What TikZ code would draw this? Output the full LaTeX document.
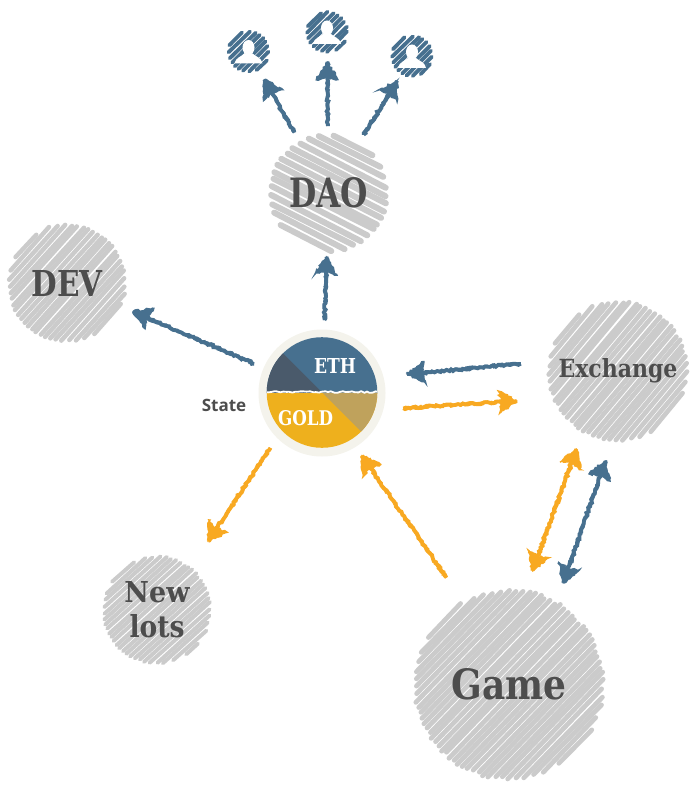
\documentclass[tikz,border=0pt]{standalone}
\usepackage{graphicx}
\usepackage{fontspec}
\usetikzlibrary{calc,decorations.pathmorphing}
\newfontfamily\dispfont{DejaVu Serif}
\newfontfamily\statefont{Open Sans}
\definecolor{inkblue}{HTML}{47708F}
\definecolor{inkorange}{HTML}{F8A922}
\definecolor{hatchgrey}{HTML}{CBCBCB}
\definecolor{labelgrey}{HTML}{4D4D4D}
\definecolor{ringcream}{HTML}{F4F3EC}
\definecolor{slicedark}{HTML}{4A5A6B}
\definecolor{slicegold}{HTML}{EEB01D}
\definecolor{slicetan}{HTML}{BFA25C}
\tikzset{
  roughline/.style={decorate,decoration={random steps,segment length=2.4pt,amplitude=1.1pt}},
  roughhead/.style={decorate,decoration={random steps,segment length=2.2pt,amplitude=1.3pt}},
  disc/.style={circle,inner sep=0pt,outer sep=0pt,text=labelgrey,align=center},
  tornedge/.style={decorate,decoration={random steps,segment length=3pt,amplitude=.8pt}},
}
\newcommand\lab[3]{\resizebox{#1pt}{#2pt}{\dispfont\bfseries #3}}
% x, y, radius, angle, gap, stroke width, colour, seed
\newcommand\hatchdisc[8]{%
  \begin{scope}[shift={(#1,#2)},rotate=#4]
    \pgfmathsetseed{#8}
    \pgfmathsetmacro\hR{#3-#6/2}
    \pgfmathsetmacro\hN{int(2*\hR/#5)}
    \foreach \hI in {0,...,\hN}{
      \pgfmathsetmacro\hD{-\hR+(\hI+0.5)*#5+0.1*#5*rand}
      \pgfmathsetmacro\hH{sqrt(max(\hR*\hR-\hD*\hD,0))}
      \pgfmathsetmacro\hA{-\hH+0.018*#3*rand}
      \pgfmathsetmacro\hB{\hH+0.018*#3*rand}
      \pgfmathsetmacro\hT{\hD+0.12*#5*rand}
      \ifdim\hH pt>2.5pt
        \draw[line width=#6pt,color=#7,line cap=round] (\hA,\hD) -- (\hB,\hT);
      \fi
    }
  \end{scope}
}
\newcommand\skhead[3]{%
  \filldraw[#1,line width=1.4pt,roughhead] (#2) -- ($(#2)!21pt!32:(#3)$) -- ($(#2)!15pt!(#3)$) -- ($(#2)!21pt!-32:(#3)$) -- cycle;
}
\newcommand\skline[3]{%
  \draw[#1,line width=3.8pt,roughline] (#2) -- (#3);
  \draw[#1,line width=3pt,roughline] (#2) -- (#3);
}
% colour, from, to, gap at from, gap at to
\newcommand\skarrow[5]{%
  \coordinate (ta) at ($(#2)!#4pt!(#3)$);
  \coordinate (ti) at ($(#3)!#5pt!(#2)$);
  \skline{#1}{ta}{ti}
  \skhead{#1}{ti}{ta}
}
\newcommand\sktwoway[5]{%
  \coordinate (ta) at ($(#2)!#4pt!(#3)$);
  \coordinate (ti) at ($(#3)!#5pt!(#2)$);
  \skline{#1}{ta}{ti}
  \skhead{#1}{ti}{ta}
  \skhead{#1}{ta}{ti}
}
\newcommand\personshape{%
  \fill[white] (0,-4) ellipse (6 and 7.5);
  \fill[white] (-14,12) .. controls (-13,6) and (-7,5) .. (-4,2) -- (4,2) .. controls (7,5) and (13,6) .. (14,12) -- cycle;
}
\begin{document}
\begin{tikzpicture}[x=1pt,y=-1pt]
\useasboundingbox (0,0) rectangle (700,786);
\fill[white] (0,0) rectangle (700,786);

% large hatched discs
\hatchdisc{328.5}{193}{60.5}{-27}{7.4}{6.0}{hatchgrey}{11}
\node[disc,minimum size=121pt] (dao) at (328.5,193) {\lab{79}{30}{DAO}};
\hatchdisc{67}{283}{60}{48}{5}{4.4}{hatchgrey}{12}
\node[disc,minimum size=120pt] (dev) at (67,283) {\lab{71}{26}{DEV}};
\hatchdisc{618}{371}{71}{50}{5.2}{4.6}{hatchgrey}{13}
\node[disc,minimum size=142pt] (exch) at (618,371) {\lab{119}{19}{Exchange}};
\hatchdisc{509}{684.5}{96}{46}{5.2}{4.7}{hatchgrey}{14}
\node[disc,minimum size=192pt] (game) at (509,684.5) {\lab{115}{31}{Game}};
\hatchdisc{157}{610}{55}{42}{4.5}{3.9}{hatchgrey}{15}
\node[disc,minimum size=110pt,font=\fontsize{12}{35}\selectfont] (lots) at (157,610) {\lab{65}{21}{New}\\\lab{55}{23}{lots}};

% member discs
\hatchdisc{248.5}{51.5}{22}{45}{4.6}{3.8}{inkblue}{21}
\begin{scope}[shift={(248.5,51.5)}]\personshape\end{scope}
\node[disc,minimum size=43pt] (ua) at (248.5,51.5) {};
\hatchdisc{327}{32}{22}{45}{4.6}{3.8}{inkblue}{22}
\begin{scope}[shift={(327,32)}]\personshape\end{scope}
\node[disc,minimum size=43pt] (ub) at (327,32) {};
\hatchdisc{412}{56}{22}{45}{4.6}{3.8}{inkblue}{23}
\begin{scope}[shift={(412,56)}]\personshape\end{scope}
\node[disc,minimum size=43pt] (uc) at (412,56) {};

% state dial
\node[disc,minimum size=127pt,fill=ringcream] (state) at (322,393) {};
\begin{scope}
  \clip (322,392.5) circle (55.3);
  \fill[inkblue] (260,330) rectangle (384,392.5);
  \fill[slicegold] (260,392.5) rectangle (384,455);
  \fill[slicedark] (322,392.5) -- (262,332.5) -- (262,392.5) -- cycle;
  \fill[slicetan] (322,392.5) -- (382,452.5) -- (382,392.5) -- cycle;
  \pgfmathsetseed{7}
  \draw[white,line width=1.8pt,tornedge] (262,392) -- (382,392);
\end{scope}
\node[inner sep=0pt,text=white] (eth) at (335,365.5) {\lab{42}{15}{ETH}};
\node[inner sep=0pt,text=white] (gold) at (305.5,418.5) {\lab{55}{15}{GOLD}};
\node[inner sep=0pt,text=labelgrey,font=\statefont\bfseries\fontsize{17}{18}\selectfont] (statelabel) at (224,405) {State};

% connectors
\pgfmathsetseed{31}
\skarrow{inkblue}{dao}{ua}{69.5}{32.4}
\skarrow{inkblue}{dao}{ub}{67}{30}
\skarrow{inkblue}{dao}{uc}{68}{29}
\skarrow{inkblue}{state}{dao}{73}{64}
\skarrow{inkblue}{state}{dev}{74}{72}
\skarrow{inkblue}{exch.172}{state.15}{27}{24}
\skarrow{inkorange}{state.-15}{exch.203}{20}{36}
\skarrow{inkorange}{state.-135}{lots.52}{12}{31}
\skarrow{inkorange}{game.119}{state.-58}{28}{11}
\sktwoway{inkorange}{exch.-120}{game.80}{17.7}{20.5}
\sktwoway{inkblue}{exch.-95}{game.60}{20}{19.6}
\end{tikzpicture}
\end{document}
